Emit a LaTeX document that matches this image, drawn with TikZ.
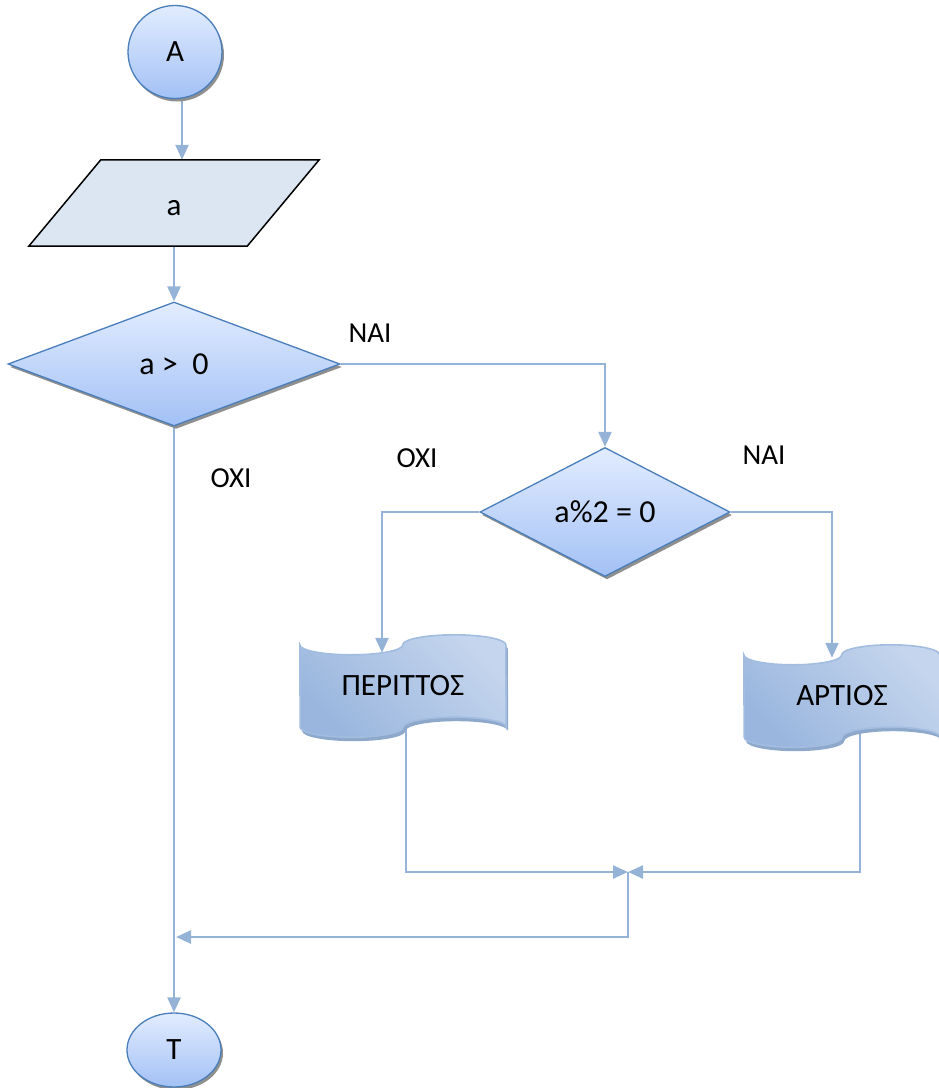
\documentclass[tikz,border=0pt]{standalone}
\usepackage{fontspec}
\setmainfont{Carlito}
\usetikzlibrary{shapes.geometric,arrows.meta,shadows,calc}
\pgfdeclarelayer{bg}
\pgfdeclarelayer{mid}
\pgfsetlayers{bg,mid,main}

\definecolor{connBlue}{HTML}{95B3D7}
\definecolor{edgeBlue}{HTML}{4A7EBB}
\definecolor{shadeTop}{HTML}{E2ECFF}
\definecolor{shadeBot}{HTML}{A3C1F5}
\definecolor{shadowGray}{HTML}{8F8F8F}
\definecolor{ioFill}{HTML}{DCE6F2}
\definecolor{tapeDark}{HTML}{9AB6DE}
\definecolor{tapeLight}{HTML}{E6EDF8}
\definecolor{tapeSoft}{HTML}{C4D5ED}
\definecolor{tapeEdge}{HTML}{A3BDE0}
\definecolor{tapeShadow}{HTML}{8EA8CC}

\begin{document}
\begin{tikzpicture}[x=1pt,y=-1pt,
  conn/.style={draw=connBlue,line width=2.5pt},
  flow/.style={conn,-{Triangle[length=15pt,width=13pt]}},
  shadowed/.style={drop shadow={shadow xshift=2pt,shadow yshift=-3pt,fill=shadowGray,opacity=1}},
  body/.style={font=\fontsize{31}{37}\selectfont},
  cond/.style={font=\fontsize{32}{38}\selectfont},
  tag/.style={font=\fontsize{29}{35}\selectfont},
  terminal/.style={ellipse,draw=edgeBlue,line width=1.3pt,top color=shadeTop,bottom color=shadeBot,shadowed,inner sep=0pt,body},
  decision/.style={diamond,draw=edgeBlue,line width=1.3pt,top color=shadeTop,bottom color=shadeBot,shadowed,inner sep=0pt,cond},
  tapebox/.style={body,inner sep=0pt,minimum height=82pt},
  tapefill/.style={draw=tapeEdge,line width=1.6pt,top color=tapeDark,middle color=tapeLight,bottom color=tapeSoft,shading angle=135},
  tapeshade/.style={fill=tapeShadow,transform canvas={xshift=2pt,yshift=-4pt}}
]
\useasboundingbox (0,0) rectangle (939,1088);

% terminals, input, decisions and outputs
\node[terminal,minimum width=94pt,minimum height=93pt] (A) at (175,52) {Α};
\node[inner sep=0pt,minimum width=218pt,minimum height=86pt] (io) at (174,203) {};
\node[body] (ioText) at (174,208) {a};
\node[decision,minimum width=332pt,minimum height=124pt] (d1) at (174,364) {a >\ \ 0};
\node[decision,minimum width=250pt,minimum height=129pt] (d2) at (605,512) {a\%2 = 0};
\node[tapebox,minimum width=206pt] (odd) at (403,686) {ΠΕΡΙΤΤΟΣ};
\node[tapebox,minimum width=196pt] (even) at (842,696) {ΑΡΤΙΟΣ};
\node[terminal,minimum width=94pt,minimum height=74pt] (T) at (174,1050) {Τ};

% branch labels
\node[tag] (yes1) at (370,333) {ΝΑΙ};
\node[tag] (no1) at (231,478) {ΟΧΙ};
\node[tag] (no2) at (417,458) {ΟΧΙ};
\node[tag] (yes2) at (764,455) {ΝΑΙ};

% parallelogram and punched-tape outlines (two half-ellipses per wavy edge)
\begin{pgfonlayer}{mid}
  \draw[black,line width=1.5pt,fill=ioFill]
    ([xshift=36pt]io.north west) -- ([xshift=36pt]io.north east)
    -- ([xshift=-36pt]io.south east) -- ([xshift=-36pt]io.south west) -- cycle;
  \foreach \t/\r in {odd/51.5,even/49}{
    \foreach \s in {tapeshade,tapefill}{
      \path[\s] (\t.north west)
        arc[start angle=180,end angle=0,x radius=\r,y radius=10]
        arc[start angle=180,end angle=360,x radius=\r,y radius=10]
        -- (\t.south east)
        arc[start angle=0,end angle=-180,x radius=\r,y radius=10]
        arc[start angle=0,end angle=180,x radius=\r,y radius=10]
        -- cycle;
    }
  }
\end{pgfonlayer}

% connectors
\begin{pgfonlayer}{bg}
  \coordinate (m) at (628,872);
  \coordinate (jy) at (0,937);
  \coordinate (j) at (d1.south |- jy);
  \draw[flow] ([xshift=7pt]A.south) -- ([xshift=8pt]io.north);
  \draw[flow] (io.south) -- (d1.north);
  \draw[flow] (d1.east) -| (d2.north);
  \draw[flow] (d2.west) -| ([xshift=-21pt,yshift=-8pt]odd.north);
  \draw[flow] (d2.east) -| ([xshift=-10pt,yshift=-3pt]even.north);
  \draw[flow] ([xshift=3pt,yshift=6pt]odd.south) |- (m);
  \draw[flow] ([xshift=18pt,yshift=6pt]even.south) |- (m);
  \draw[flow] (m) |- ([xshift=2pt]j);
  \draw[flow] (d1.south) -- (T.north);
\end{pgfonlayer}
\end{tikzpicture}
\end{document}
